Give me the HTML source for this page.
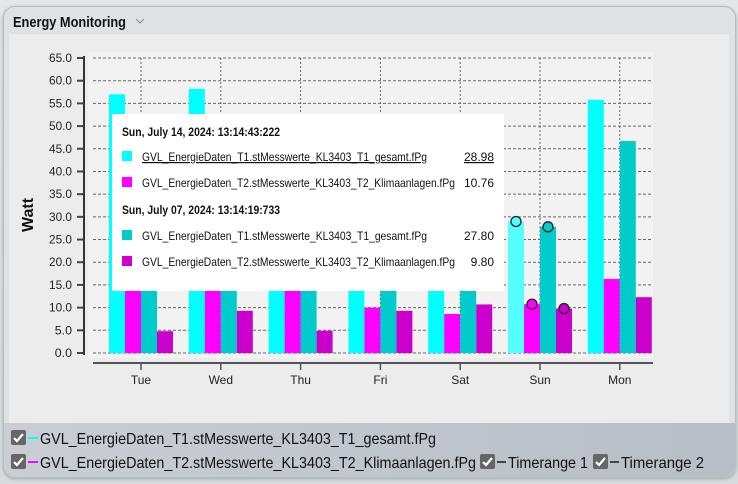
<!DOCTYPE html>
<html><head><meta charset="utf-8"><style>
body{margin:0;width:738px;height:484px;overflow:hidden;font-family:"Liberation Sans",sans-serif;background:linear-gradient(#e4e6e8,#d8dbde);}
#frame{position:absolute;left:3px;top:6px;width:731px;height:470px;border-radius:12px;background:#dfe2e5;border:1px solid #b9bdc2;box-shadow:0 1px 3px #9aa;overflow:hidden}
#inner{position:absolute;left:5px;top:27px;width:720px;height:389px;background:#ececec}
#legend{position:absolute;left:0;top:416px;width:731px;height:54px;background:linear-gradient(90deg,#c9ced4,#b8bec6)}
</style></head><body>
<div id="frame">
<div id="inner"></div>
<div id="legend"></div>
</div>
<svg id="chart" width="738" height="484" style="position:absolute;left:0;top:0">
<text x="13" y="27" font-size="15" font-weight="bold" fill="#111" textLength="113" lengthAdjust="spacingAndGlyphs">Energy Monitoring</text>
<path d="M136 19 l4 4 l4 -4" fill="none" stroke="#888" stroke-width="1"/>
</svg>
<script>
const days=["Tue","Wed","Thu","Fri","Sat","Sun","Mon"];
const t1r1=[57.0,58.2,45,44,40,28.98,55.8];
const t2r1=[30,33,28,10.0,8.6,10.76,16.3];
const t1r2=[38,40,36,38,35,27.80,46.7];
const t2r2=[4.8,9.3,4.9,9.3,10.7,9.80,12.3];
const yTicks=[0,5,10,15,20,25,30,35,40,45,50,55,60,65];
const colors=["#00ffff","#ff00ff","#00cccc","#cc00cc"];
const NS="http://www.w3.org/2000/svg";
const svg=document.getElementById('chart');
const y=v=>353-v*(295/65);
const xc=i=>141+i*79.8;
function mk(t,a,p){const e=document.createElementNS(NS,t);for(const k in a)e.setAttribute(k,a[k]);(p||svg).appendChild(e);return e;}
mk('rect',{x:88,y:52,width:565,height:306,fill:'#f2f2f2'});
yTicks.forEach(v=>{
 const l=mk('line',{x1:93,x2:653,y1:y(v),y2:y(v),stroke:'#666','stroke-dasharray':'3,2','stroke-width':1});
 
 mk('line',{x1:77,x2:84,y1:y(v),y2:y(v),stroke:'#444','stroke-width':2});
 const s=v.toFixed(1);
 const t=mk('text',{x:72,y:y(v)+4,'text-anchor':'end','font-size':12,fill:'#222',textLength:s.length*5.75,lengthAdjust:'spacingAndGlyphs'});t.textContent=s;
 
});
days.forEach((d,i)=>{
 mk('line',{x1:xc(i),x2:xc(i),y1:58,y2:353,stroke:'#666','stroke-dasharray':'2,2'});
});
mk('line',{x1:84,x2:84,y1:56,y2:355,stroke:'#333','stroke-width':2});
mk('line',{x1:93,x2:653,y1:363,y2:363,stroke:'#555','stroke-width':2});
const series=[t1r1,t2r1,t1r2,t2r2];
days.forEach((d,i)=>{
 series.forEach((s,k)=>{
  const x0=xc(i)-32+k*16;
  let c=colors[k];
  if(d==="Sun"&&k===0)c="#55ffff";
  const r=mk('rect',{x:x0,y:y(s[i]),width:16,height:353-y(s[i]),fill:c});
  
  
  if(d==="Sun"){mk('circle',{cx:x0+8,cy:y(s[i]),r:5,fill:c,stroke:'#222','stroke-width':1.3});}
 });
 mk('line',{x1:xc(i),x2:xc(i),y1:363,y2:370,stroke:'#555','stroke-width':1.5});
 const t=mk('text',{x:xc(i),y:384,'text-anchor':'middle','font-size':12,fill:'#222'});t.textContent=d;
 
});
const yt=mk('text',{x:0,y:0,transform:'translate(33,215) rotate(-90)','text-anchor':'middle','font-size':16,'font-weight':'bold',fill:'#111'});yt.textContent='Watt';

// tooltip
const g=mk('g',{});
mk('rect',{x:112,y:114,width:392,height:177,fill:'#fff'},g);
function tx(s,x,yy,a,p){const t=mk('text',Object.assign({x:x,y:yy,'font-size':12,fill:'#111',lengthAdjust:'spacingAndGlyphs'},a||{}),p||g);t.textContent=s;return t;}
tx('Sun, July 14, 2024: 13:14:43:222',122,136,{'font-weight':'bold',textLength:158});
mk('rect',{x:122,y:151,width:10,height:10,fill:'#00ffff'},g);
tx('GVL_EnergieDaten_T1.stMesswerte_KL3403_T1_gesamt.fPg',142,161,{'text-decoration':'underline',textLength:285});
tx(t1r1[5].toFixed(2),494,161,{'text-anchor':'end','text-decoration':'underline'});
mk('rect',{x:122,y:177,width:10,height:10,fill:'#ff00ff'},g);
tx('GVL_EnergieDaten_T2.stMesswerte_KL3403_T2_Klimaanlagen.fPg',142,187,{textLength:313});
tx(t2r1[5].toFixed(2),494,187,{'text-anchor':'end'});
tx('Sun, July 07, 2024: 13:14:19:733',122,214,{'font-weight':'bold',textLength:158});
mk('rect',{x:122,y:230,width:10,height:10,fill:'#00cccc'},g);
tx('GVL_EnergieDaten_T1.stMesswerte_KL3403_T1_gesamt.fPg',142,240,{textLength:285});
tx(t1r2[5].toFixed(2),494,240,{'text-anchor':'end'});
mk('rect',{x:122,y:256,width:10,height:10,fill:'#cc00cc'},g);
tx('GVL_EnergieDaten_T2.stMesswerte_KL3403_T2_Klimaanlagen.fPg',142,266,{textLength:313});
tx(t2r2[5].toFixed(2),494,266,{'text-anchor':'end'});
// legend
function cb(x,yy,name){const r=mk('rect',{x:x,y:yy,width:15,height:15,rx:2,fill:'#666'});
 mk('path',{d:`M${x+3} ${yy+8} l3 3 l6 -7`,fill:'none',stroke:'#fff','stroke-width':2.2});}
function lt(s,x,yy,len,name){const t=mk('text',{x:x,y:yy,'font-size':16,fill:'#111',textLength:len,lengthAdjust:'spacingAndGlyphs'});t.textContent=s;}
cb(11,430,'legend-checkbox-t1');mk('line',{x1:28,x2:38,y1:438,y2:438,stroke:'#00ffff','stroke-width':2});
lt('GVL_EnergieDaten_T1.stMesswerte_KL3403_T1_gesamt.fPg',40,444,396,'legend-label-t1');
cb(11,454,'legend-checkbox-t2');mk('line',{x1:28,x2:38,y1:462,y2:462,stroke:'#ff00ff','stroke-width':2});
lt('GVL_EnergieDaten_T2.stMesswerte_KL3403_T2_Klimaanlagen.fPg',40,468,436,'legend-label-t2');
cb(480,454,'legend-checkbox-timerange1');mk('line',{x1:497,x2:506,y1:462,y2:462,stroke:'#444','stroke-width':2});
lt('Timerange 1',508,468,80,'legend-label-timerange1');
cb(593,454,'legend-checkbox-timerange2');mk('line',{x1:610,x2:619,y1:462,y2:462,stroke:'#444','stroke-width':2});
lt('Timerange 2',621,468,83,'legend-label-timerange2');
</script>
</body></html>
